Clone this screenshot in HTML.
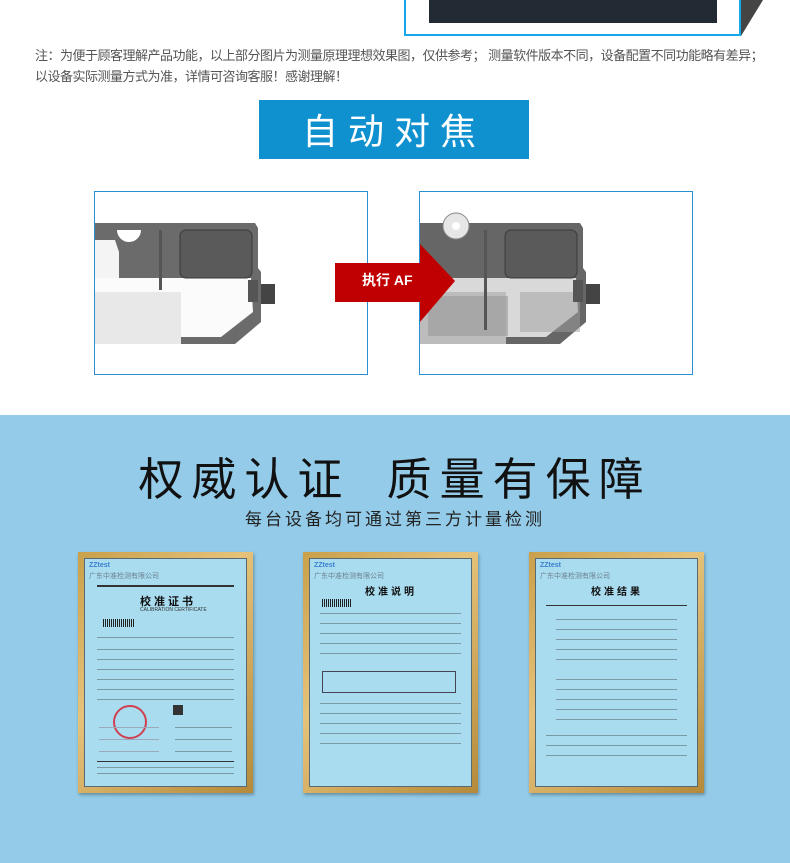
<!DOCTYPE html>
<html><head><meta charset="utf-8"><style>
html,body{margin:0;padding:0}
body{width:790px;height:863px;position:relative;overflow:hidden;background:#fff;font-family:"Liberation Sans","Noto Sans CJK SC",sans-serif}
.a{position:absolute}
.note{left:35px;font-size:13px;color:#555;white-space:nowrap;letter-spacing:-0.5px}
.frame{position:absolute;top:552px;width:175px;height:241px;background:linear-gradient(135deg,#c9a04a,#e6c27a 40%,#b58a3a);box-shadow:1px 2px 3px rgba(0,0,0,.3)}
.paper{position:absolute;left:6px;top:6px;right:6px;bottom:6px;background:#a9dcef;border:1px solid #5a6a70}
.ln{position:absolute;height:1px;background:#7a9aa6}
.t{position:absolute;font-size:7px;color:#333;white-space:nowrap}
</style></head><body>

<svg class="a" style="left:740px;top:0" width="24" height="40"><polygon points="1,0 23,0 1,36" fill="#444"/></svg>
<div class="a" style="left:404px;top:-4px;width:333px;height:36px;border:2px solid #13a8e8;background:#fff"></div>
<div class="a" style="left:429px;top:0;width:288px;height:23px;background:#222a33"></div>

<div class="a note" style="top:45px">注：为便于顾客理解产品功能，以上部分图片为测量原理理想效果图，仅供参考； 测量软件版本不同，设备配置不同功能略有差异；</div>
<div class="a note" style="top:66px">以设备实际测量方式为准，详情可咨询客服！感谢理解！</div>

<div class="a" style="left:259px;top:100px;width:270px;height:59px;background:#0f90cf;color:#fff;font-size:36px;text-align:center;line-height:59px;letter-spacing:10px;font-family:'Noto Sans CJK SC',sans-serif">自动对焦</div>

<div class="a" style="left:94px;top:191px;width:272px;height:182px;border:1px solid #2a8fd0;background:#fff;overflow:hidden">
<svg width="272" height="182">
<polygon points="0,31 160,31 163,36 163,76 166,80 166,130 140,152 0,152" fill="#6b6b6b"/>
<polygon points="0,86 156,86 158,120 126,145 86,145 86,100 0,100" fill="#fbfbfb"/>
<polygon points="0,100 86,100 86,152 0,152" fill="#e8e8e8"/>
<path d="M22,38 a12,12 0 0 0 24,0 z" fill="#fff"/>
<polygon points="0,48 20,48 24,60 24,86 0,86" fill="#f4f4f4"/>
<rect x="64" y="38" width="3" height="60" fill="#555"/>
<rect x="85" y="38" width="72" height="48" rx="6" fill="#5a5a5a" stroke="#3a3a3a"/>
<rect x="153" y="88" width="10" height="22" fill="#555"/>
<rect x="166" y="92" width="14" height="20" fill="#444"/>
</svg></div>

<div class="a" style="left:419px;top:191px;width:272px;height:182px;border:1px solid #2a8fd0;background:#fff;overflow:hidden">
<svg width="272" height="182">
<polygon points="0,31 160,31 163,36 163,76 166,80 166,130 140,152 0,152" fill="#666"/>
<polygon points="0,86 156,86 158,120 126,145 86,145 86,100 0,100" fill="#d9d9d9"/>
<polygon points="0,100 86,100 86,152 0,152" fill="#bcbcbc"/>
<rect x="8" y="104" width="80" height="40" fill="#9a9a9a" opacity=".6"/>
<rect x="100" y="100" width="60" height="40" fill="#a0a0a0" opacity=".5"/>
<circle cx="36" cy="34" r="13" fill="#e6e6e6" stroke="#888"/>
<circle cx="36" cy="34" r="4" fill="#fff"/>
<rect x="64" y="38" width="3" height="100" fill="#555"/>
<rect x="85" y="38" width="72" height="48" rx="6" fill="#5a5a5a" stroke="#3a3a3a"/>
<rect x="153" y="88" width="10" height="22" fill="#555"/>
<rect x="166" y="92" width="14" height="20" fill="#444"/>
</svg></div>

<svg class="a" style="left:335px;top:244px" width="125" height="80"><polygon points="0,19 85,19 85,0 120,37 85,78 85,58 0,58" fill="#c00000"/></svg>
<div class="a" style="left:362px;top:270px;color:#fff;font-size:14px;font-weight:bold;font-family:'Liberation Sans','Noto Sans CJK SC',sans-serif">执行 AF</div>

<div class="a" style="left:0;top:415px;width:790px;height:448px;background:#93cbe8"></div>
<div class="a" style="left:0;top:446px;width:790px;text-align:center;font-size:45px;color:#111;letter-spacing:8px;font-family:'Noto Sans CJK SC',sans-serif;line-height:60px">权威认证&nbsp;&nbsp;质量有保障</div>
<div class="a" style="left:0;top:505px;width:790px;text-align:center;font-size:17px;color:#222;letter-spacing:3px;font-family:'Noto Sans CJK SC',sans-serif">每台设备均可通过第三方计量检测</div>

<div class="frame" style="left:78px"><div class="paper">
<div class="t" style="left:4px;top:3px;color:#3a7fd0;font-weight:bold">ZZtest</div>
<div class="t" style="left:4px;top:12px;color:#6a7f90">广东中准检测有限公司</div>
<div class="ln" style="left:12px;right:12px;top:26px;height:2px;background:#333"></div>
<div class="t" style="left:55px;top:34px;font-size:11px;font-weight:bold;color:#111;letter-spacing:3px">校准证书</div>
<div class="t" style="left:55px;top:48px;font-size:5px">CALIBRATION CERTIFICATE</div>
<div class="a" style="left:18px;top:60px;width:32px;height:8px;background:repeating-linear-gradient(90deg,#222 0 1px,transparent 1px 2px)"></div>
<div class="ln" style="left:12px;right:12px;top:78px"></div><div class="ln" style="left:12px;right:12px;top:90px"></div><div class="ln" style="left:12px;right:12px;top:100px"></div><div class="ln" style="left:12px;right:12px;top:110px"></div><div class="ln" style="left:12px;right:12px;top:120px"></div><div class="ln" style="left:12px;right:12px;top:130px"></div><div class="ln" style="left:12px;right:12px;top:140px"></div>
<div class="a" style="left:28px;top:146px;width:30px;height:30px;border:2px solid #d04050;border-radius:50%"></div>
<div class="a" style="left:88px;top:146px;width:10px;height:10px;background:#333"></div>
<div class="ln" style="left:90px;right:14px;top:168px"></div><div class="ln" style="left:90px;right:14px;top:180px"></div><div class="ln" style="left:90px;right:14px;top:192px"></div>
<div class="ln" style="left:14px;width:60px;top:168px;background:#9ab"></div><div class="ln" style="left:14px;width:60px;top:180px;background:#9ab"></div><div class="ln" style="left:14px;width:60px;top:192px;background:#9ab"></div>
<div class="ln" style="left:12px;right:12px;top:202px;background:#333"></div>
<div class="ln" style="left:12px;right:12px;top:208px"></div><div class="ln" style="left:12px;right:12px;top:214px"></div>
</div></div>

<div class="frame" style="left:303px"><div class="paper">
<div class="t" style="left:4px;top:3px;color:#3a7fd0;font-weight:bold">ZZtest</div>
<div class="t" style="left:4px;top:12px;color:#6a7f90">广东中准检测有限公司</div>
<div class="t" style="left:55px;top:24px;font-size:10px;font-weight:bold;color:#111;letter-spacing:3px">校准说明</div>
<div class="a" style="left:12px;top:40px;width:30px;height:8px;background:repeating-linear-gradient(90deg,#222 0 1px,transparent 1px 2px)"></div>
<div class="ln" style="left:10px;right:10px;top:54px"></div><div class="ln" style="left:10px;right:10px;top:64px"></div><div class="ln" style="left:10px;right:10px;top:74px"></div><div class="ln" style="left:10px;right:10px;top:84px"></div><div class="ln" style="left:10px;right:10px;top:94px"></div>
<div class="a" style="left:12px;top:112px;width:132px;height:20px;border:1px solid #445"></div>
<div class="ln" style="left:10px;right:10px;top:144px"></div><div class="ln" style="left:10px;right:10px;top:154px"></div><div class="ln" style="left:10px;right:10px;top:164px"></div><div class="ln" style="left:10px;right:10px;top:174px"></div><div class="ln" style="left:10px;right:10px;top:184px"></div>
</div></div>

<div class="frame" style="left:529px"><div class="paper">
<div class="t" style="left:4px;top:3px;color:#3a7fd0;font-weight:bold">ZZtest</div>
<div class="t" style="left:4px;top:12px;color:#6a7f90">广东中准检测有限公司</div>
<div class="t" style="left:55px;top:24px;font-size:10px;font-weight:bold;color:#111;letter-spacing:3px">校准结果</div>
<div class="ln" style="left:10px;right:10px;top:46px;background:#333"></div>
<div class="ln" style="left:20px;right:20px;top:60px"></div><div class="ln" style="left:20px;right:20px;top:70px"></div><div class="ln" style="left:20px;right:20px;top:80px"></div><div class="ln" style="left:20px;right:20px;top:90px"></div><div class="ln" style="left:20px;right:20px;top:100px"></div>
<div class="ln" style="left:20px;right:20px;top:120px"></div><div class="ln" style="left:20px;right:20px;top:130px"></div><div class="ln" style="left:20px;right:20px;top:140px"></div><div class="ln" style="left:20px;right:20px;top:150px"></div><div class="ln" style="left:20px;right:20px;top:160px"></div>
<div class="ln" style="left:10px;right:10px;top:176px"></div><div class="ln" style="left:10px;right:10px;top:186px"></div><div class="ln" style="left:10px;right:10px;top:196px"></div>
</div></div>
</body></html>
